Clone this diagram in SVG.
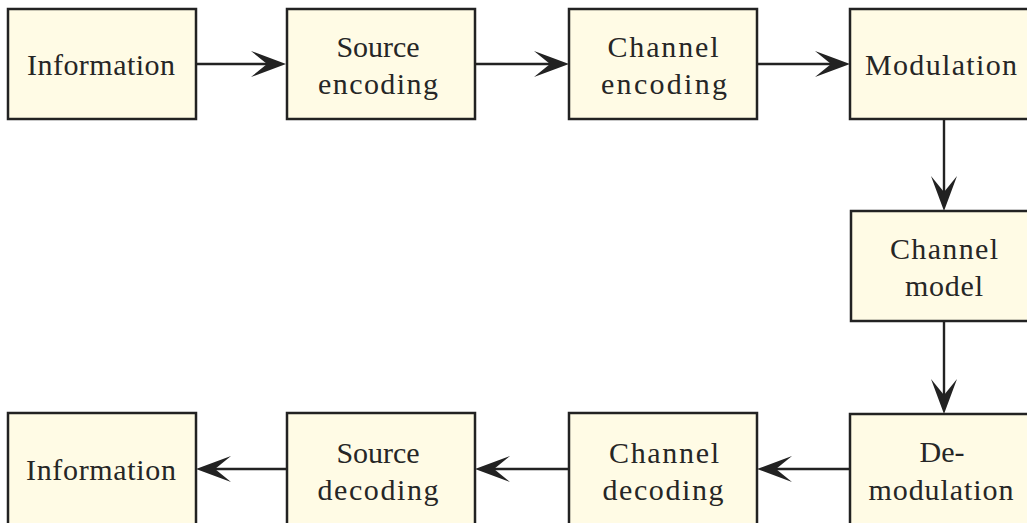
<svg xmlns="http://www.w3.org/2000/svg" width="1027" height="523" viewBox="0 0 1027 523">
  <style>
    .box { fill: #fffbe5; stroke: #222; stroke-width: 2.5; }
    .lbl { font-family: "Liberation Serif", "Times New Roman", serif; font-size: 30px; fill: #262626; text-anchor: middle; }
    .wire { stroke: #222; stroke-width: 2.4; fill: none; }
    .head { fill: #222; }
  </style>
  <defs>
    <!-- notched arrowhead, tip at origin, pointing along +x -->
    <path id="ah" d="M0,0 L-35,-13 L-19,0 L-35,13 Z"/>
  </defs>

  <!-- connectors -->
  <g id="connectors">
    <line class="wire" x1="196" y1="64" x2="280" y2="64"/>
    <use href="#ah" class="head" transform="translate(286,64)"/>
    <line class="wire" x1="475" y1="64" x2="563" y2="64"/>
    <use href="#ah" class="head" transform="translate(569,64)"/>
    <line class="wire" x1="757" y1="64" x2="844" y2="64"/>
    <use href="#ah" class="head" transform="translate(850,64)"/>

    <line class="wire" x1="944" y1="119" x2="944" y2="205"/>
    <use href="#ah" class="head" transform="translate(944,211) rotate(90)"/>
    <line class="wire" x1="944" y1="321" x2="944" y2="408"/>
    <use href="#ah" class="head" transform="translate(944,414) rotate(90)"/>

    <line class="wire" x1="850" y1="469" x2="763" y2="469"/>
    <use href="#ah" class="head" transform="translate(757,469) rotate(180)"/>
    <line class="wire" x1="569" y1="469" x2="481" y2="469"/>
    <use href="#ah" class="head" transform="translate(475,469) rotate(180)"/>
    <line class="wire" x1="287" y1="469" x2="202" y2="469"/>
    <use href="#ah" class="head" transform="translate(196,469) rotate(180)"/>
  </g>

  <g id="info-src">
    <rect class="box" x="8" y="9" width="188" height="110"/>
    <text class="lbl" x="101" y="75" textLength="148" lengthAdjust="spacing">Information</text>
  </g>
  <g id="source-encoding">
    <rect class="box" x="287" y="9" width="188" height="110"/>
    <text class="lbl" x="378" y="57" textLength="83" lengthAdjust="spacing">Source</text>
    <text class="lbl" x="378" y="94" textLength="120" lengthAdjust="spacing">encoding</text>
  </g>
  <g id="channel-encoding">
    <rect class="box" x="569" y="9" width="188" height="110"/>
    <text class="lbl" x="663" y="57" textLength="111" lengthAdjust="spacing">Channel</text>
    <text class="lbl" x="664" y="94" textLength="126" lengthAdjust="spacing">encoding</text>
  </g>
  <g id="modulation">
    <rect class="box" x="850" y="9" width="188" height="110"/>
    <text class="lbl" x="941" y="75" textLength="152" lengthAdjust="spacing">Modulation</text>
  </g>
  <g id="channel-model">
    <rect class="box" x="851" y="211" width="188" height="110"/>
    <text class="lbl" x="944" y="259" textLength="108" lengthAdjust="spacing">Channel</text>
    <text class="lbl" x="944" y="296" textLength="78" lengthAdjust="spacing">model</text>
  </g>
  <g id="demodulation">
    <rect class="box" x="850" y="414" width="188" height="115"/>
    <text class="lbl" x="942" y="462" textLength="45" lengthAdjust="spacing">De-</text>
    <text class="lbl" x="941" y="500" textLength="145" lengthAdjust="spacing">modulation</text>
  </g>
  <g id="channel-decoding">
    <rect class="box" x="569" y="413" width="188" height="115"/>
    <text class="lbl" x="664" y="463" textLength="110" lengthAdjust="spacing">Channel</text>
    <text class="lbl" x="663" y="500" textLength="121" lengthAdjust="spacing">decoding</text>
  </g>
  <g id="source-decoding">
    <rect class="box" x="287" y="413" width="188" height="115"/>
    <text class="lbl" x="378" y="463" textLength="83" lengthAdjust="spacing">Source</text>
    <text class="lbl" x="378" y="500" textLength="121" lengthAdjust="spacing">decoding</text>
  </g>
  <g id="info-sink">
    <rect class="box" x="8" y="413" width="188" height="115"/>
    <text class="lbl" x="101" y="480" textLength="150" lengthAdjust="spacing">Information</text>
  </g>
</svg>
